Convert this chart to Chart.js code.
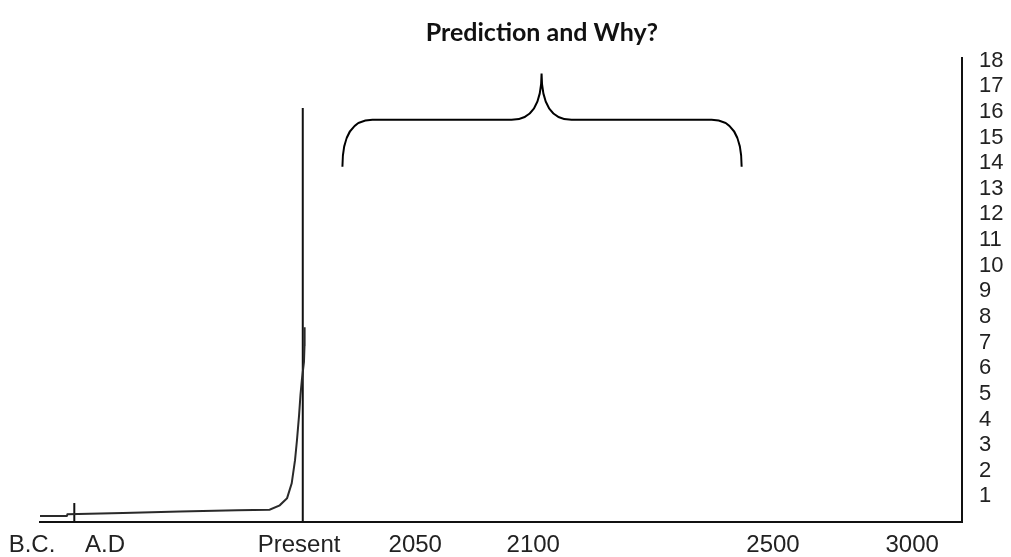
<!DOCTYPE html>
<html>
<head>
<meta charset="utf-8">
<script src="https://cdn.jsdelivr.net/npm/chart.js@4/dist/chart.umd.min.js"></script>
<style>
    html, body { margin: 0; padding: 0; background: #ffffff; }
    #wrap { width: 1011px; height: 557px; position: relative; }
</style>
</head>
<body>
<div id="wrap"><canvas id="chart"></canvas></div>
<script>
// Timeline is not to scale: positions run 0 (left end) .. 100 (right end)
const tickPositions = [-0.87, 7.05, 28.1, 40.7, 53.5, 79.5, 94.6];
const tickLabels = ['B.C.', 'A.D', 'Present', '2050', '2100', '2500', '3000'];

// Right-hand axis ticks (billions)
const yTicks = [1, 2, 3, 4, 5, 6, 7, 8, 9, 10, 11, 12, 13, 14, 15, 16, 17, 18];
const yMax = 18.1;

// Population curve (billions)
const curveX = [0, 2.9, 2.98, 9.0, 15.2, 21.4, 24.9, 26.0, 26.8, 27.3, 27.66, 27.87, 28.1, 28.25, 28.4, 28.63, 28.69, 28.7];
const curveY = [0.23, 0.23, 0.30, 0.35, 0.41, 0.46, 0.48, 0.65, 0.93, 1.51, 2.41, 3.19, 4.17, 4.95, 5.54, 6.24, 6.9, 7.6];

// "Present" marker line
const presentX = [28.5, 28.5];
const presentY = [0, 16.15];

// small tick at the B.C. / A.D boundary
const adMarkX = [3.72, 3.72];
const adMarkY = [0, 0.74];

// Brace over the future part of the timeline (in axis units)
const braceLeft = 32.8;
const braceMid = 54.4;
const braceRight = 76.1;
const braceFoot = 13.86;
const braceBar = 15.69;
const braceTip = 17.5;

const titleText = 'Prediction and Why?';

const toPoints = (xs, ys) => xs.map((x, i) => ({ x: x, y: ys[i] }));

// Draws the curly brace using the chart scales
const bracePlugin = {
    id: 'brace',
    afterDatasetsDraw(chart) {
        const { ctx, scales: { x, y } } = chart;
        const xl = x.getPixelForValue(braceLeft);
        const xm = x.getPixelForValue(braceMid);
        const xr = x.getPixelForValue(braceRight);
        const yf = y.getPixelForValue(braceFoot);
        const yb = y.getPixelForValue(braceBar);
        const yt = y.getPixelForValue(braceTip);
        const r = 30;

        ctx.save();
        ctx.strokeStyle = '#000000';
        ctx.lineWidth = 2;
        ctx.beginPath();
        ctx.moveTo(xl, yf);
        ctx.quadraticCurveTo(xl, yb, xl + r, yb);
        ctx.lineTo(xm - r, yb);
        ctx.quadraticCurveTo(xm, yb, xm, yt);
        ctx.quadraticCurveTo(xm, yb, xm + r, yb);
        ctx.lineTo(xr - r, yb);
        ctx.quadraticCurveTo(xr, yb, xr, yf);
        ctx.stroke();
        ctx.restore();
    }
};

// Title sits a little right of the canvas centre, over the brace
const titlePlugin = {
    id: 'offsetTitle',
    afterDraw(chart) {
        const { ctx, width } = chart;
        ctx.save();
        ctx.fillStyle = '#111111';
        ctx.font = 'bold 25px Lato';
        ctx.textAlign = 'center';
        ctx.textBaseline = 'middle';
        ctx.fillText(titleText, width * 0.536, 33);
        ctx.restore();
    }
};

const ctx = document.getElementById('chart').getContext('2d');

const chart = new Chart(ctx, {
    type: 'line',
    data: {
        datasets: [
            {
                label: 'Population',
                data: toPoints(curveX, curveY),
                borderColor: '#2a2a2a',
                borderWidth: 2,
                pointRadius: 0,
                tension: 0,
                fill: false
            },
            {
                label: 'Present',
                data: toPoints(presentX, presentY),
                borderColor: '#111111',
                borderWidth: 2,
                pointRadius: 0,
                fill: false
            },
            {
                label: 'A.D',
                data: toPoints(adMarkX, adMarkY),
                borderColor: '#111111',
                borderWidth: 2,
                pointRadius: 0,
                fill: false
            }
        ]
    },
    options: {
        responsive: true,
        maintainAspectRatio: false,
        animation: false,
        layout: {
            padding: { left: 40, right: 0, top: 58, bottom: 0 }
        },
        plugins: {
            legend: { display: false },
            tooltip: { enabled: false },
            title: { display: false }
        },
        scales: {
            x: {
                type: 'linear',
                min: 0,
                max: 100,
                grid: { display: false, drawTicks: false },
                border: { display: true, color: '#111111', width: 2 },
                afterBuildTicks: (scale) => {
                    scale.ticks = tickPositions.map(v => ({ value: v }));
                },
                afterFit: (scale) => {
                    scale.height = 35;
                    scale.paddingLeft = 0;
                    scale.paddingRight = 0;
                },
                ticks: {
                    autoSkip: false,
                    maxRotation: 0,
                    padding: 9,
                    color: '#222222',
                    font: { family: 'Liberation Sans', size: 24 },
                    callback: (value) => {
                        const i = tickPositions.indexOf(value);
                        return i >= 0 ? tickLabels[i] : '';
                    }
                }
            },
            y: {
                position: 'right',
                min: 0,
                max: yMax,
                grid: { display: false, drawTicks: false },
                border: { display: true, color: '#111111', width: 2 },
                afterBuildTicks: (scale) => {
                    scale.ticks = yTicks.map(v => ({ value: v }));
                },
                afterFit: (scale) => {
                    scale.width = 49;
                    scale.paddingTop = 0;
                    scale.paddingBottom = 0;
                },
                ticks: {
                    autoSkip: false,
                    padding: 17,
                    color: '#222222',
                    font: { family: 'Liberation Sans', size: 22 },
                    callback: (value) => value
                }
            }
        }
    },
    plugins: [bracePlugin, titlePlugin]
});
</script>
</body>
</html>
